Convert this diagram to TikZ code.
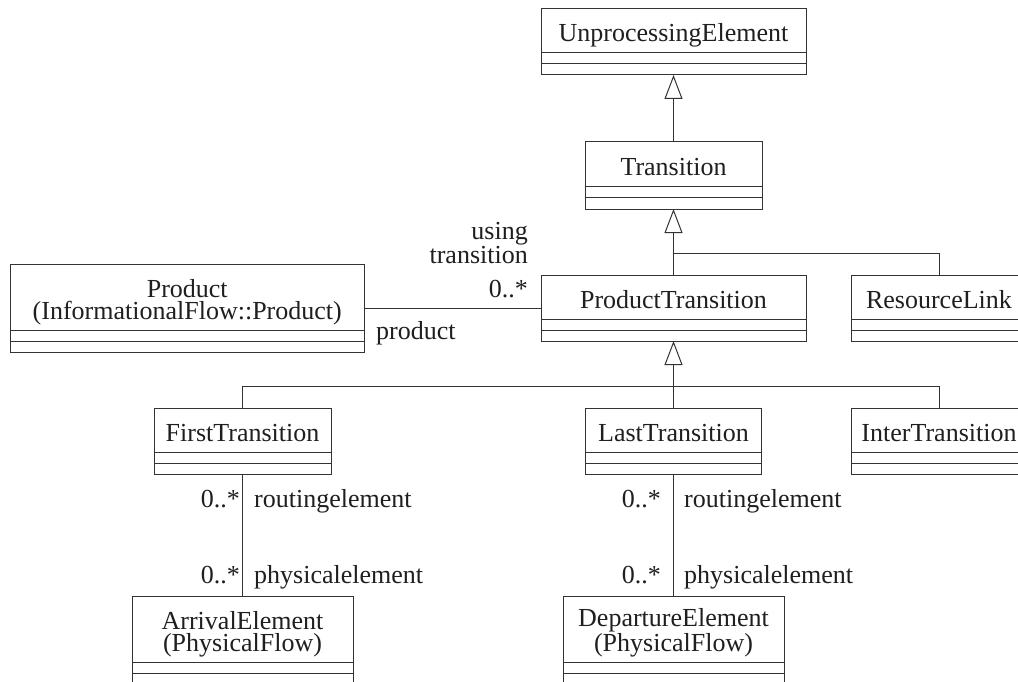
\documentclass[tikz,border=0pt]{standalone}
\usepackage{fontspec}
\setmainfont{Liberation Serif}
\usetikzlibrary{arrows.meta,calc}
\definecolor{linec}{gray}{0.2}
\definecolor{txtc}{gray}{0.12}
\tikzset{
  clsbox/.style={draw=linec, line width=1pt, fill=white, inner sep=0pt, outer sep=0pt},
  clstext/.style={font=\fontsize{26}{22}\selectfont, text=txtc, inner sep=0pt, align=center, anchor=base},
  lbl/.style={font=\fontsize{26}{22}\selectfont, text=txtc, inner sep=0pt},
  conn/.style={draw=linec, line width=1pt},
  gen/.style={conn, -{Triangle[open, length=24pt, width=18pt, line width=1pt]}},
  sepline/.style={draw=linec, line width=1pt},
}
\newcommand{\umlclass}[6]{%
  \node[clsbox, minimum width=#4, minimum height=#5+22, anchor=north] (#1) at (#2,#3) {};
  \draw[sepline] ($(#1.north west)+(0,#5)$) -- ($(#1.north east)+(0,#5)$);
  \draw[sepline] ($(#1.north west)+(0,#5+11)$) -- ($(#1.north east)+(0,#5+11)$);
  \node[clstext] (#1-name) at ($(#1.north)+(0,#5-11)$) {#6};
}
\begin{document}
\begin{tikzpicture}[x=1pt, y=-1pt]
\useasboundingbox (0,0) rectangle (1018,682);
\fill[white] (0,0) rectangle (1018,682);
\clip (0,0) rectangle (1018,682);

\umlclass{ue}{673.5}{9}{265}{44}{UnprocessingElement}
\umlclass{tr}{673.5}{142}{177}{45}{Transition}
\umlclass{pt}{673.5}{275}{265}{44}{ProductTransition}
\umlclass{rl}{939}{275}{176}{44}{ResourceLink}
\umlclass{prod}{187.25}{264}{353.5}{66}{Product\\(InformationalFlow::Product)}
\umlclass{ft}{242.5}{408}{177}{44}{FirstTransition}
\umlclass{lt}{673.5}{408}{176}{44}{LastTransition}
\umlclass{it}{939}{408}{176}{44}{InterTransition}
\umlclass{ae}{242.5}{596}{221}{66}{ArrivalElement\\(PhysicalFlow)}
\umlclass{de}{673.5}{596}{221}{66}{DepartureElement\\(PhysicalFlow)}

\coordinate (j1) at (673.5,253);
\coordinate (j2) at (673.5,386);
\draw[gen] (tr.north) -- (ue.south);
\draw[gen] (pt.north) -- (tr.south);
\draw[conn] (rl.north) |- (j1);
\draw[gen] (lt.north) -- (pt.south);
\draw[conn] (ft.north) |- (j2);
\draw[conn] (it.north) |- (j2);
\draw[conn] (prod.east) -- (pt.west);
\draw[conn] (ft.south) -- (ae.north);
\draw[conn] (lt.south) -- (de.north);

\node[lbl, align=right, anchor=base east] (lut) at (528,263) {using\\transition};
\node[lbl, anchor=base east] (lm1) at (528,297) {0..*};
\node[lbl, anchor=base west] (lpr) at (376,339) {product};
\node[lbl, anchor=base east] (lm2) at (240,507) {0..*};
\node[lbl, anchor=base west] (lr1) at (254,507) {routingelement};
\node[lbl, anchor=base east] (lm3) at (240,583) {0..*};
\node[lbl, anchor=base west] (lp1) at (254,583) {physicalelement};
\node[lbl, anchor=base east] (lm4) at (661,507) {0..*};
\node[lbl, anchor=base west] (lr2) at (684,507) {routingelement};
\node[lbl, anchor=base east] (lm5) at (661,583) {0..*};
\node[lbl, anchor=base west] (lp2) at (684,583) {physicalelement};
\end{tikzpicture}
\end{document}
